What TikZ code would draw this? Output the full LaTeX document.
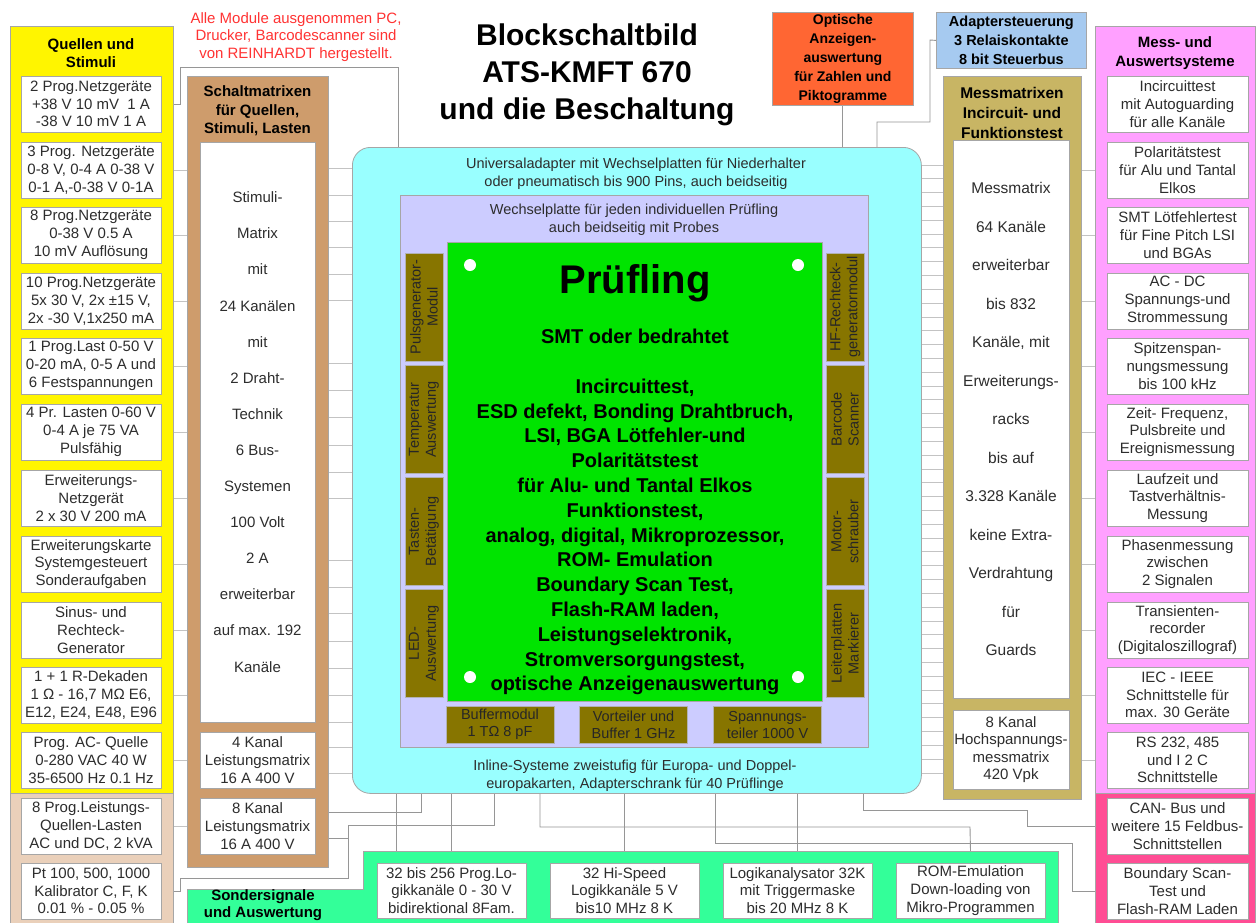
\documentclass[tikz,border=0pt]{standalone}
\usepackage{fontspec}
\setmainfont{Liberation Sans}
\usetikzlibrary{calc}
\pgfdeclarelayer{bg}
\pgfsetlayers{bg,main}
\definecolor{cYel}{RGB}{255,245,0}
\definecolor{cBeige}{RGB}{234,208,186}
\definecolor{cBrown}{RGB}{206,156,108}
\definecolor{cCyan}{RGB}{153,255,255}
\definecolor{cLav}{RGB}{204,204,255}
\definecolor{cGreen}{RGB}{0,228,0}
\definecolor{cOlive}{RGB}{135,117,0}
\definecolor{cKhaki}{RGB}{200,181,100}
\definecolor{cPink}{RGB}{255,160,255}
\definecolor{cHot}{RGB}{255,77,148}
\definecolor{cSpring}{RGB}{51,255,153}
\definecolor{cOrange}{RGB}{255,102,51}
\definecolor{cBlue}{RGB}{166,202,240}
\definecolor{cRed}{RGB}{255,51,51}
\definecolor{cLine}{RGB}{195,195,195}
\definecolor{cLineD}{RGB}{150,150,150}
\definecolor{cTxt}{RGB}{45,45,45}
\newcommand\fs[2]{\fontsize{#1}{#2}\selectfont}
\newcommand\lbox[3]{\node[wbox, minimum width=140pt, minimum height=56pt] (#1) at (91,#2) {#3};}
\newcommand\rbox[3]{\node[wbox, minimum width=141pt, minimum height=56pt] (#1) at (1177.5,#2) {#3};}
\begin{document}
\begin{tikzpicture}[x=1pt,y=-1pt,
  area/.style={draw=gray!70, line width=0.8pt, anchor=north west, inner sep=0pt},
  wbox/.style={draw=gray!70, line width=0.8pt, fill=white, inner sep=0pt, align=center, text=cTxt, font=\fs{15}{17.8}},
  mod/.style={draw=gray!60, line width=0.6pt, fill=cOlive, inner sep=0pt, align=center, text=black!85, font=\fs{14.5}{17}},
  ttl/.style={font=\bfseries\fs{15}{18.5}, align=center, text=black},
  conn/.style={draw=cLine, line width=1pt},
  conn2/.style={draw=cLineD, line width=0.9pt},
  ctext/.style={font=\fs{14.5}{18}, align=center, text=cTxt}]
\useasboundingbox (0,0) rectangle (1258,922);
\clip (0,0) rectangle (1258,922);

% ---------- columns ----------
\node[area, fill=cYel, minimum width=163pt, minimum height=767pt] (qcol) at (10,26) {};
\node[area, fill=cBeige, minimum width=163pt, minimum height=150pt] (qcolb) at (10,793) {};
\node[area, fill=cBrown, minimum width=141pt, minimum height=791pt] (scol) at (187,76) {};
\node[area, fill=cKhaki, minimum width=138pt, minimum height=723pt] (mcol) at (943,76) {};
\node[area, fill=cPink, minimum width=160pt, minimum height=767pt] (pcol) at (1095,26) {};
\node[area, fill=cHot, minimum width=160pt, minimum height=150pt] (pcolb) at (1095,793) {};
\node[area, fill=cCyan, rounded corners=18pt, minimum width=569pt, minimum height=646pt] (ucyan) at (352,147) {};
\node[area, fill=cLav, minimum width=468pt, minimum height=552pt] (wplate) at (400,195) {};
\node[area, fill=cGreen, minimum width=375pt, minimum height=459pt] (dut) at (447,242) {};
\node[area, fill=cOrange, minimum width=141pt, minimum height=93pt, align=center, font=\bfseries\fs{14}{19}] (optik) at (772,12) {Optische\\Anzeigen-\\auswertung\\für Zahlen und\\Piktogramme};
\node[area, fill=cBlue, minimum width=150pt, minimum height=56pt, align=center, font=\bfseries\fs{14.5}{19}] (adapt) at (936,12) {Adaptersteuerung\\3 Relaiskontakte\\8 bit Steuerbus};
\path[draw=gray!70, line width=0.8pt, fill=cSpring] (187,940) -- (187,889) -- (363,889) -- (363,851) -- (1058,851) -- (1058,940) -- cycle;
\coordinate (sgtop) at (700,851);
\coordinate (sgstep) at (363,887);

% ---------- titles ----------
\node[font=\bfseries\fs{30}{37}, align=center] (title) at (587,75) {Blockschaltbild\\ATS-KMFT 670\\und die Beschaltung};
\node[font=\fs{15}{17.5}, align=center, text=cRed] (note) at (296,37) {Alle Module ausgenommen PC,\\Drucker, Barcodescanner sind\\von REINHARDT hergestellt.};
\node[ttl] (qt) at (91,53) {Quellen und\\Stimuli};
\node[ttl] (stt) at (257.5,111) {Schaltmatrixen\\für Quellen,\\Stimuli, Lasten};
\node[ttl, font=\bfseries\fs{15.5}{20}] (mtt) at (1012,113) {Messmatrixen\\Incircuit- und\\Funktionstest};
\node[ttl] (ptt) at (1175,53) {Mess- und\\Auswertsysteme};
\node[ttl, font=\bfseries\fs{15}{17}] (sst) at (263,905) {Sondersignale\\und Auswertung};

% ---------- left boxes ----------
\lbox{l1}{104}{2 Prog.Netzgeräte\\+38 V 10 mV\ \ 1 A\\-38 V 10 mV 1 A}
\lbox{l2}{170}{3 Prog. Netzgeräte\\0-8 V, 0-4 A 0-38 V\\0-1 A,-0-38 V 0-1A}
\lbox{l3}{235}{8 Prog.Netzgeräte\\0-38 V 0.5 A\\10 mV Auflösung}
\lbox{l4}{301}{10 Prog.Netzgeräte\\5x 30 V, 2x ±15 V,\\2x -30 V,1x250 mA}
\lbox{l5}{366}{1 Prog.Last 0-50 V\\0-20 mA, 0-5 A und\\6 Festspannungen}
\lbox{l6}{432}{4 Pr. Lasten 0-60 V\\0-4 A je 75 VA\\Pulsfähig}
\lbox{l7}{498}{Erweiterungs-\\Netzgerät\\2 x 30 V 200 mA}
\lbox{l8}{564}{Erweiterungskarte\\Systemgesteuert\\Sonderaufgaben}
\lbox{l9}{630}{Sinus- und\\Rechteck-\\Generator}
\lbox{l10}{695}{1 + 1 R-Dekaden\\1 Ω - 16,7 MΩ E6,\\E12, E24, E48, E96}
\lbox{l11}{760}{Prog. AC- Quelle\\0-280 VAC 40 W\\35-6500 Hz 0.1 Hz}
\lbox{l12}{826}{8 Prog.Leistungs-\\Quellen-Lasten\\AC und DC, 2 kVA}
\lbox{l13}{891}{Pt 100, 500, 1000\\Kalibrator C, F, K\\0.01 \% - 0.05 \%}

% ---------- right boxes ----------
\rbox{r1}{104}{Incircuittest\\mit Autoguarding\\für alle Kanäle}
\rbox{r2}{170}{Polaritätstest\\für Alu und Tantal\\Elkos}
\rbox{r3}{235}{SMT Lötfehlertest\\für Fine Pitch LSI\\und BGAs}
\rbox{r4}{301}{AC - DC\\Spannungs-und\\Strommessung}
\rbox{r5}{366}{Spitzenspan-\\nungsmessung\\bis 100 kHz}
\rbox{r6}{432}{Zeit- Frequenz,\\Pulsbreite und\\Ereignismessung}
\rbox{r7}{498}{Laufzeit und\\Tastverhältnis-\\Messung}
\rbox{r8}{564}{Phasenmessung\\zwischen\\2 Signalen}
\rbox{r9}{630}{Transienten-\\recorder\\(Digitaloszillograf)}
\rbox{r10}{695}{IEC - IEEE\\Schnittstelle für\\max. 30 Geräte}
\rbox{r11}{760}{RS 232, 485\\und I 2 C\\Schnittstelle}
\rbox{r12}{826}{CAN- Bus und\\weitere 15 Feldbus-\\Schnittstellen}
\rbox{r13}{891}{Boundary Scan-\\Test und\\Flash-RAM Laden}

% ---------- matrix columns ----------
\node[wbox, minimum width=115pt, minimum height=580pt, font=\fs{15}{36.1}] (smat) at (257.5,432) {Stimuli-\\Matrix\\mit\\24 Kanälen\\mit\\2 Draht-\\Technik\\6 Bus-\\Systemen\\100 Volt\\2 A\\erweiterbar\\auf max. 192\\Kanäle};
\node[wbox, minimum width=115pt, minimum height=56pt] (lm4) at (257.5,760) {4 Kanal\\Leistungsmatrix\\16 A 400 V};
\node[wbox, minimum width=115pt, minimum height=56pt] (lm8) at (257.5,826) {8 Kanal\\Leistungsmatrix\\16 A 400 V};
\node[wbox, minimum width=116pt, minimum height=558pt, font=\fs{15.5}{38.5}] (mmat) at (1011,419) {Messmatrix\\64 Kanäle\\erweiterbar\\bis 832\\Kanäle, mit\\Erweiterungs-\\racks\\bis auf\\3.328 Kanäle\\keine Extra-\\Verdrahtung\\für\\Guards};
\node[wbox, minimum width=116pt, minimum height=79pt, font=\fs{15}{17.5}] (hvm) at (1011,749.5) {8 Kanal\\Hochspannungs-\\messmatrix\\420 Vpk};

% ---------- adapter texts ----------
\node[ctext] (ct1) at (636,174) {Universaladapter mit Wechselplatten für Niederhalter\\oder pneumatisch bis 900 Pins, auch beidseitig};
\node[ctext] (ct2) at (634,220) {Wechselplatte für jeden individuellen Prüfling\\auch beidseitig mit Probes};
\node[ctext] (ct3) at (635,776) {Inline-Systeme zweistufig für Europa- und Doppel-\\europakarten, Adapterschrank für 40 Prüflinge};

% ---------- DUT ----------
\node[font=\bfseries\fs{40}{44}] (dutt) at (635,283) {Prüfling};
\node[font=\bfseries\fs{20}{24}] (duts) at (635,336) {SMT oder bedrahtet};
\node[font=\bfseries\fs{20}{24.8}, align=center] (dutl) at (635,537) {Incircuittest,\\ESD defekt, Bonding Drahtbruch,\\LSI, BGA Lötfehler-und\\Polaritätstest\\für Alu- und Tantal Elkos\\Funktionstest,\\analog, digital, Mikroprozessor,\\ROM- Emulation\\Boundary Scan Test,\\Flash-RAM laden,\\Leistungselektronik,\\Stromversorgungstest,\\optische Anzeigenauswertung};
\foreach \px/\py in {470/265, 798/265, 470/677, 798/677} \fill[white] (\px,\py) circle (6pt);

% ---------- modules ----------
\node[mod, rotate=90, minimum width=108pt, minimum height=38pt] (ml1) at (424,307) {Pulsgenerator-\\Modul};
\node[mod, rotate=90, minimum width=108pt, minimum height=38pt] (ml2) at (424,419.5) {Temperatur\\Auswertung};
\node[mod, rotate=90, minimum width=108pt, minimum height=38pt] (ml3) at (424,531.5) {Tasten-\\Betätigung};
\node[mod, rotate=90, minimum width=108pt, minimum height=38pt] (ml4) at (424,643.5) {LED-\\Auswertung};
\node[mod, rotate=90, minimum width=108pt, minimum height=38pt] (mr1) at (845,307) {HF-Rechteck-\\generatormodul};
\node[mod, rotate=90, minimum width=108pt, minimum height=38pt] (mr2) at (845,419.5) {Barcode\\Scanner};
\node[mod, rotate=90, minimum width=108pt, minimum height=38pt] (mr3) at (845,531.5) {Motor-\\schrauber};
\node[mod, rotate=90, minimum width=108pt, minimum height=38pt] (mr4) at (845,643.5) {Leiterplatten\\Markierer};
\node[mod, minimum width=108pt, minimum height=37pt] (mb1) at (500,724.5) {Buffermodul\\1 TΩ 8 pF};
\node[mod, minimum width=108pt, minimum height=37pt] (mb2) at (633.5,724.5) {Vorteiler und\\Buffer 1 GHz};
\node[mod, minimum width=108pt, minimum height=37pt] (mb3) at (767.5,724.5) {Spannungs-\\teiler 1000 V};

% ---------- bottom green boxes ----------
\node[wbox, minimum width=149pt, minimum height=55pt] (g1) at (451.5,890.5) {32 bis 256 Prog.Lo-\\gikkanäle 0 - 30 V\\bidirektional 8Fam.};
\node[wbox, minimum width=149pt, minimum height=55pt] (g2) at (624.5,890.5) {32 Hi-Speed\\Logikkanäle 5 V\\bis10 MHz 8 K};
\node[wbox, minimum width=149pt, minimum height=55pt] (g3) at (797.5,890.5) {Logikanalysator 32K\\mit Triggermaske\\bis 20 MHz 8 K};
\node[wbox, minimum width=149pt, minimum height=55pt] (g4) at (970.5,890.5) {ROM-Emulation\\Down-loading von\\Mikro-Programmen};

% ---------- connectors ----------
\begin{pgfonlayer}{bg}
\fill[white] (0,0) rectangle (1258,922);
\foreach \n in {2,...,12} \draw[conn] (l\n.east -| qcol.east) -- (l\n.east -| scol.west);
\foreach \n in {2,...,11} \draw[conn] (r\n.west -| mcol.east) -- (r\n.west -| pcol.west);
\foreach \yy in {168,195,221,247,274,300,363,390,417,445,472,498,560,587,613,641,668,695,722,747,773}
  \draw[conn] (scol.east |- 0,\yy) -- (ucyan.west |- 0,\yy);
\foreach \i in {0,...,44} {
  \pgfmathsetmacro\yy{165+13.818*\i}
  \draw[conn] (ucyan.east |- 0,\yy) -- (mcol.west |- 0,\yy);
}
\draw[conn2] (l1.east -| qcol.east) -- (180,104) |- (398,67) -- (ucyan.north -| 398,0);
\draw[conn2] (optik.south) -- (ucyan.north -| optik.south);
\draw[conn2] (adapt.west) -- (930,40) |- (877,122) -- (ucyan.north -| 877,0);
\draw[conn2] (scol.east |- 0,812) -| (ucyan.south -| 421,0);
\draw[conn2] (scol.east |- 0,838) -- (348,838);
\draw[conn2] (l13.east -| qcol.east) -- (180,891) |- (348,878) |- (494,825) -- (ucyan.south -| 494,0);
\draw[conn2] (ucyan.south -| 396,0) |- (sgstep);
\draw[conn2] (ucyan.south -| g1.north) -- (g1.north |- sgtop);
\draw[conn2] (ucyan.south -| g2.north) -- (g2.north |- sgtop);
\draw[conn2] (ucyan.south -| g3.north) -- (g3.north |- sgtop);
\draw[conn2] (ucyan.south -| 540,0) |- (970,827) -- (g4.north |- sgtop);
\draw[conn2] (ucyan.south -| 863,0) |- (1027,810) |- (pcolb.west |- r12.west);
\draw[conn2] (ucyan.south -| 715,0) |- (1072,843) |- (pcolb.west |- r13.west);
\end{pgfonlayer}
\end{tikzpicture}
\end{document}
